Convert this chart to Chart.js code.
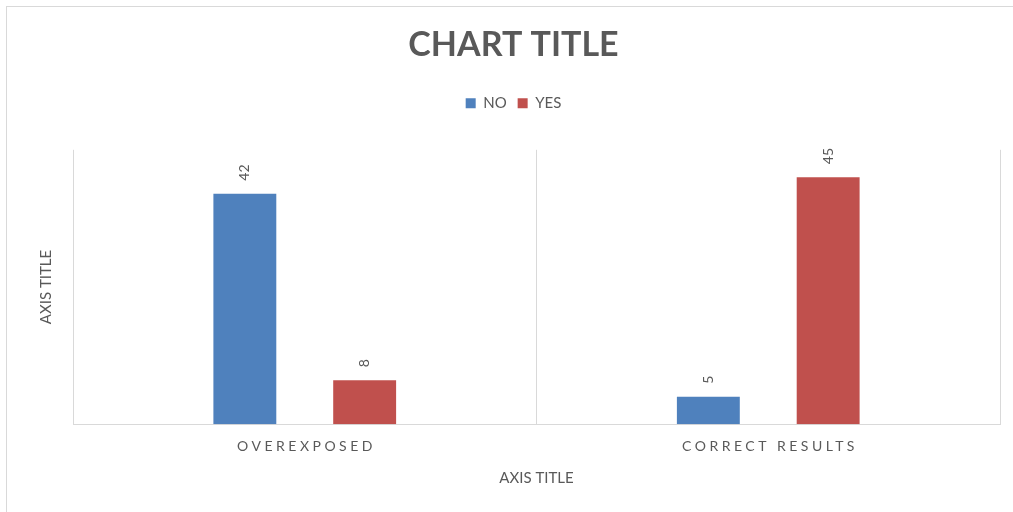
<!DOCTYPE html>
<html>
<head>
<meta charset="utf-8">
<script src="https://cdn.jsdelivr.net/npm/chart.js@4.4.1/dist/chart.umd.min.js"></script>
<style>
  html, body { margin: 0; padding: 0; background: #fff; overflow: hidden; }
  #frame {
    position: absolute; left: 6px; top: 6px;
    width: 1006px; height: 505px;
    border-top: 1px solid #d9d9d9; border-left: 1px solid #d9d9d9;
  }
  #chart { display: block; }
</style>
</head>
<body>
<div id="frame"><canvas id="chart" width="1006" height="505"></canvas></div>
<script>
  "use strict";

  const categories = ["OVEREXPOSED", "CORRECT RESULTS"];
  const noValues = [42, 5];
  const yesValues = [8, 45];
  const seriesNames = ["NO", "YES"];

  const TEXT = "#595959";
  const LINE = "#d9d9d9";
  const FONT = "Lato, 'Open Sans', sans-serif";

  // value labels, rotated, sitting above each bar
  const barLabels = {
    id: "barLabels",
    afterDatasetsDraw(chart) {
      const ctx = chart.ctx;
      ctx.save();
      ctx.fillStyle = TEXT;
      ctx.font = "14px " + FONT;
      ctx.textAlign = "left";
      ctx.textBaseline = "middle";
      chart.data.datasets.forEach(function (ds, i) {
        chart.getDatasetMeta(i).data.forEach(function (bar, j) {
          ctx.save();
          ctx.translate(bar.x, bar.y - 13);
          ctx.rotate(-Math.PI / 2);
          ctx.fillText(String(ds.data[j]), 0, 0);
          ctx.restore();
        });
      });
      ctx.restore();
    },
  };

  // category names with wide letter spacing
  const spacedTicks = {
    id: "spacedTicks",
    afterDraw(chart) {
      const ctx = chart.ctx;
      const x = chart.scales.x;
      const spacing = 3.5;
      ctx.save();
      ctx.fillStyle = TEXT;
      ctx.font = "14px " + FONT;
      ctx.letterSpacing = spacing + "px";
      ctx.textAlign = "center";
      ctx.textBaseline = "middle";
      categories.forEach(function (c, i) {
        ctx.fillText(c, x.getPixelForTick(i) + spacing / 2, chart.chartArea.bottom + 22);
      });
      ctx.restore();
    },
  };

  // extra room between legend and plot
  const legendGap = {
    id: "legendGap",
    beforeInit(chart) {
      const fit = chart.legend.fit;
      chart.legend.fit = function () {
        fit.bind(chart.legend)();
        this.height += 29;
      };
    },
  };

  new Chart(document.getElementById("chart"), {
    type: "bar",
    data: {
      labels: categories,
      datasets: [
        {
          label: seriesNames[0],
          data: noValues,
          backgroundColor: "#4f81bd",
          categoryPercentage: 0.517,
          barPercentage: 0.525,
        },
        {
          label: seriesNames[1],
          data: yesValues,
          backgroundColor: "#c0504d",
          categoryPercentage: 0.517,
          barPercentage: 0.525,
        },
      ],
    },
    options: {
      responsive: false,
      animation: false,
      layout: { padding: { left: 20, right: 13, top: 0, bottom: 0 } },
      plugins: {
        title: {
          display: true,
          text: "CHART TITLE",
          color: TEXT,
          font: { family: FONT, size: 34, weight: "bold" },
          padding: { top: 18, bottom: 19 },
        },
        legend: {
          position: "top",
          labels: {
            color: TEXT,
            font: { family: FONT, size: 15 },
            boxWidth: 10,
            boxHeight: 10,
            padding: 11,
          },
        },
        tooltip: { enabled: false },
      },
      scales: {
        x: {
          grid: { color: LINE, drawTicks: false },
          border: { color: LINE },
          ticks: {
            color: "rgba(0,0,0,0)",
            font: { family: FONT, size: 14 },
            padding: 14,
          },
          title: {
            display: true,
            text: "AXIS TITLE",
            color: TEXT,
            font: { family: FONT, size: 15 },
            padding: { top: 0, bottom: 25 },
          },
        },
        y: {
          min: 0,
          max: 50,
          grid: { display: false, drawTicks: false },
          border: { display: false },
          ticks: { display: false },
          title: {
            display: true,
            text: "AXIS TITLE",
            color: TEXT,
            font: { family: FONT, size: 15 },
            padding: { top: 10, bottom: 18 },
          },
        },
      },
    },
    plugins: [barLabels, spacedTicks, legendGap],
  });
</script>
</body>
</html>
